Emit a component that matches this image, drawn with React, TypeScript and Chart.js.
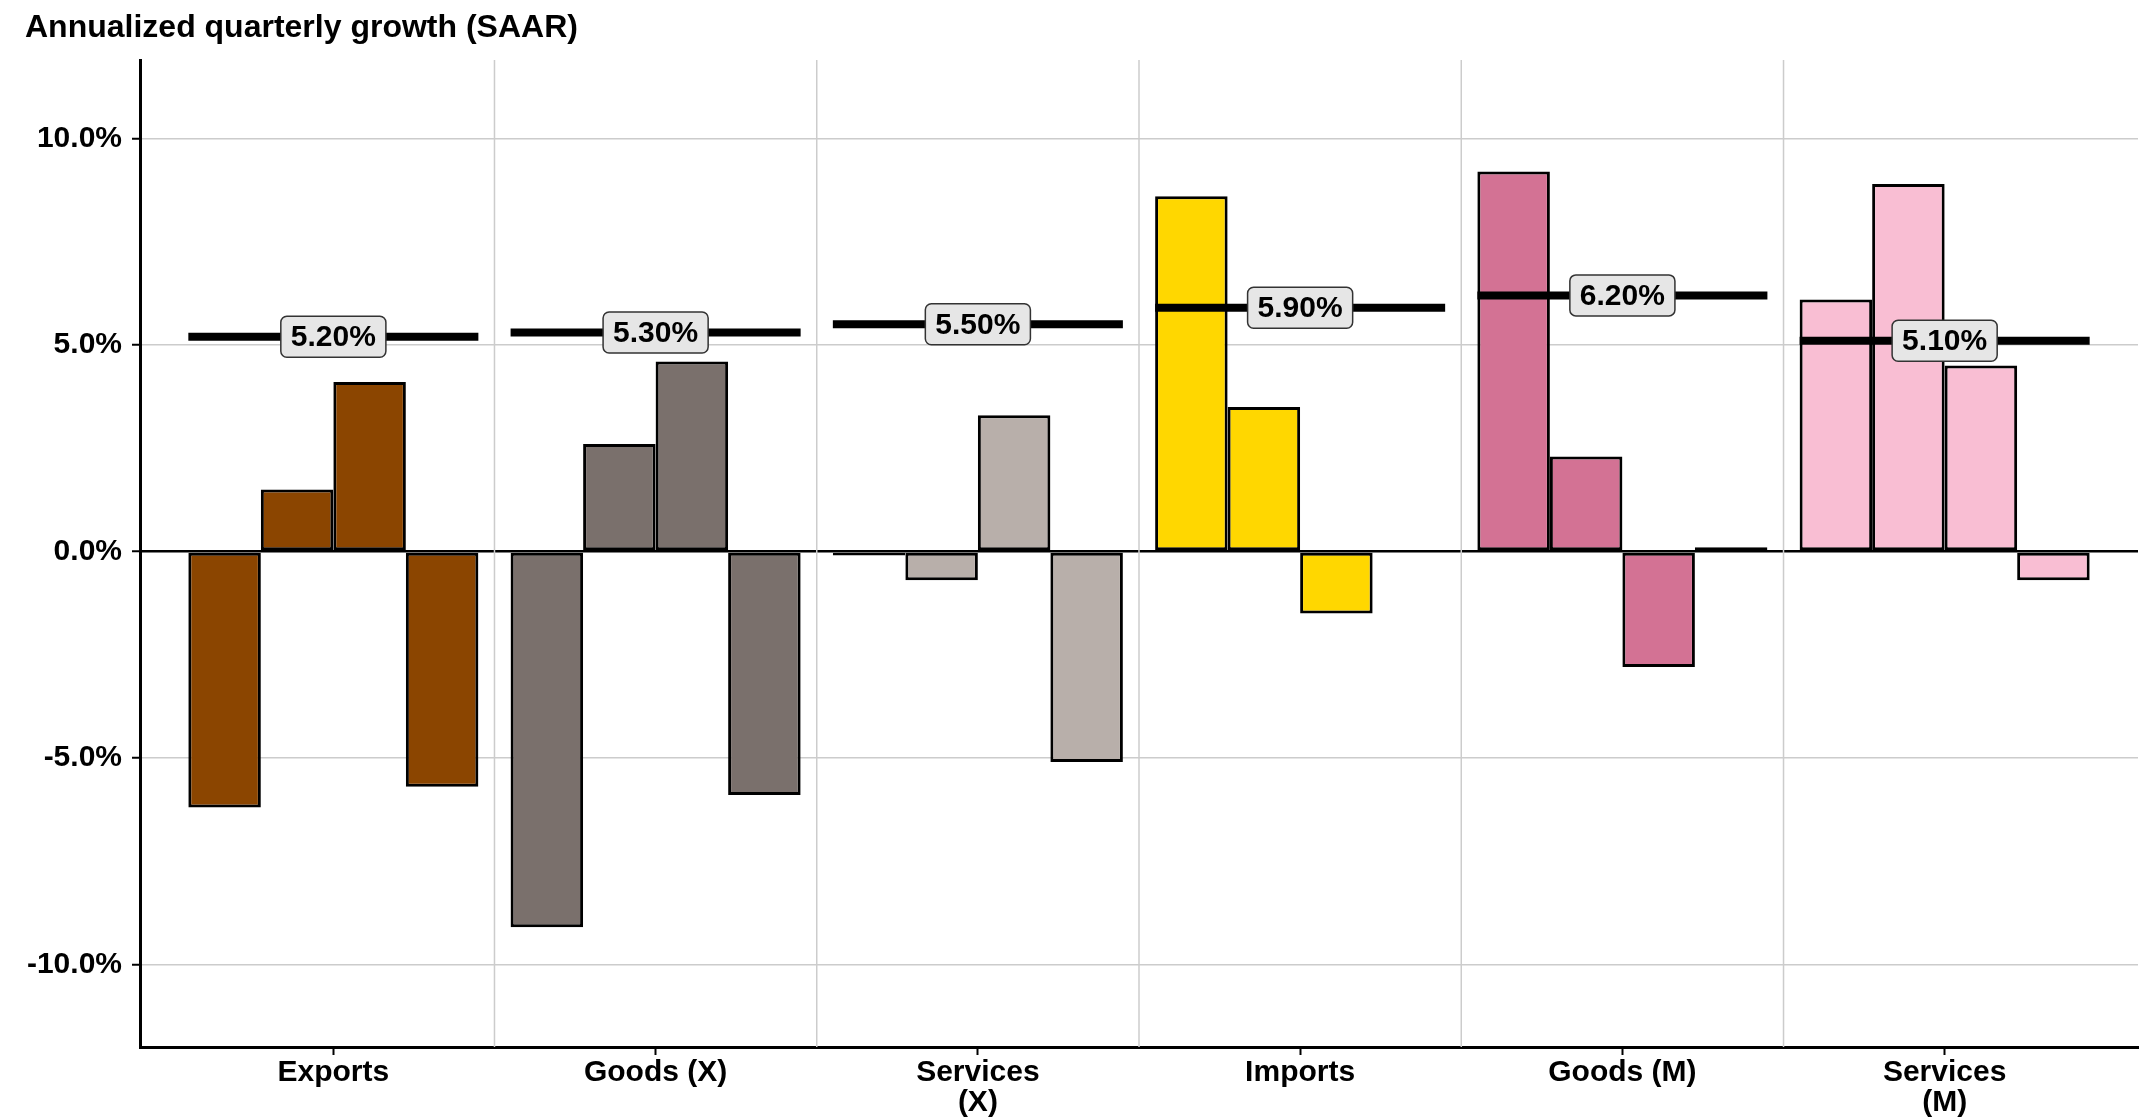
import React, { useEffect, useRef } from "react";
import { Chart, registerables } from "chart.js";

Chart.register(...registerables);

const categories: (string | string[])[] = [
  "Exports",
  "Goods (X)",
  ["Services", "(X)"],
  "Imports",
  "Goods (M)",
  ["Services", "(M)"],
];
const groupColors = ["#8B4500", "#7A706C", "#B8AFAA", "#FFD700", "#D37294", "#F9BED3"];
const q1 = [-6.2, -9.1, -0.1, 8.6, 9.2, 6.1];
const q2 = [1.5, 2.6, -0.7, 3.5, 2.3, 8.9];
const q3 = [4.1, 4.6, 3.3, -1.5, -2.8, 4.5];
const q4 = [-5.7, -5.9, -5.1, null, 0.1, -0.7];
const averages = [5.2, 5.3, 5.5, 5.9, 6.2, 5.1];
const yTicks = [-10, -5, 0, 5, 10];
const title = "Annualized quarterly growth (SAAR)";

const FONT = "'Liberation Sans', Arial, Helvetica, sans-serif";

export default function App() {
  const ref = useRef<HTMLCanvasElement | null>(null);

  useEffect(() => {
    document.body.style.margin = "0";
    const canvas = ref.current;
    if (!canvas) return;

    const series = [q1, q2, q3, q4];

    const extras = {
      id: "extras",
      beforeDatasetsDraw(chart: any) {
        const { ctx, chartArea, scales } = chart;
        const xs = scales.x;
        ctx.save();
        ctx.strokeStyle = "#cccccc";
        ctx.lineWidth = 1.5;
        for (let i = 0; i < categories.length - 1; i++) {
          const px = xs.getPixelForValue(i + 0.5);
          ctx.beginPath();
          ctx.moveTo(px, chartArea.top);
          ctx.lineTo(px, chartArea.bottom);
          ctx.stroke();
        }
        ctx.restore();
      },
      afterDatasetsDraw(chart: any) {
        const { ctx, scales } = chart;
        const ys = scales.y;
        const meta0 = chart.getDatasetMeta(0);
        ctx.save();
        for (let i = 0; i < averages.length; i++) {
          const el = meta0.data[i];
          if (!el) continue;
          const left = el.x - el.width / 2;
          const right = left + el.width * series.length;
          const py = ys.getPixelForValue(averages[i]);
          ctx.strokeStyle = "#000";
          ctx.lineWidth = 8;
          ctx.lineCap = "butt";
          ctx.beginPath();
          ctx.moveTo(left, py);
          ctx.lineTo(right, py);
          ctx.stroke();

          const label = averages[i].toFixed(2) + "%";
          ctx.font = `bold 30px ${FONT}`;
          const tw = ctx.measureText(label).width;
          const bw = tw + 20;
          const bh = 41;
          const cx = (left + right) / 2;
          const bx = cx - bw / 2;
          const by = py - bh / 2;
          ctx.beginPath();
          ctx.roundRect(bx, by, bw, bh, 6);
          ctx.fillStyle = "#e6e6e6";
          ctx.fill();
          ctx.lineWidth = 1.5;
          ctx.strokeStyle = "#333";
          ctx.stroke();
          ctx.fillStyle = "#000";
          ctx.textAlign = "center";
          ctx.textBaseline = "middle";
          ctx.fillText(label, cx, py + 1);
        }
        ctx.restore();
      },
      afterDraw(chart: any) {
        const { ctx } = chart;
        ctx.save();
        ctx.font = `bold 32px ${FONT}`;
        ctx.fillStyle = "#000";
        ctx.textAlign = "left";
        ctx.textBaseline = "alphabetic";
        ctx.fillText(title, 25, 37);
        ctx.restore();
      },
    };

    const chart = new Chart(canvas, {
      type: "bar",
      data: {
        datasets: series.map((s, k) => ({
          label: "Q" + (k + 1),
          data: s.map((v, i) => ({ x: i, y: v })),
          backgroundColor: groupColors,
          borderColor: "#000",
          borderWidth: 3,
          borderSkipped: false,
          categoryPercentage: 0.9,
          barPercentage: 1.0,
        })),
      } as any,
      options: {
        responsive: false,
        animation: false,
        layout: { padding: { top: 60, right: 14, left: 0, bottom: 0 } },
        plugins: {
          legend: { display: false },
          tooltip: { enabled: false },
          title: { display: false },
        },
        scales: {
          x: {
            type: "linear",
            min: -0.6,
            max: 5.6,
            offset: false,
            afterBuildTicks: (scale: any) => {
              scale.ticks = categories.map((_, i) => ({ value: i }));
            },
            afterFit: (scale: any) => {
              scale.height = 72;
            },
            grid: {
              offset: false,
              drawOnChartArea: false,
              drawTicks: true,
              tickLength: 8,
              tickColor: "#000",
              tickWidth: 2,
            },
            border: { display: true, color: "#000", width: 3 },
            ticks: {
              padding: 3,
              color: "#000",
              maxRotation: 0,
              autoSkip: false,
              font: { family: FONT, size: 30, weight: "bold", lineHeight: 1.0 },
              callback: (v: any) => categories[Math.round(Number(v))] as any,
            },
          },
          y: {
            type: "linear",
            min: -12,
            max: 11.9,
            afterBuildTicks: (scale: any) => {
              scale.ticks = yTicks.map((v) => ({ value: v }));
            },
            afterFit: (scale: any) => {
              scale.width = 140;
            },
            grid: {
              color: (c: any) => (c.tick && c.tick.value === 0 ? "#000" : "#cccccc"),
              lineWidth: (c: any) => (c.tick && c.tick.value === 0 ? 2.5 : 1.5),
              drawTicks: true,
              tickLength: 8,
              tickColor: "#000",
              tickWidth: 2,
            },
            border: { display: true, color: "#000", width: 3 },
            ticks: {
              padding: 10,
              color: "#000",
              font: { family: FONT, size: 30, weight: "bold" },
              callback: (v: any) => Number(v).toFixed(1) + "%",
            },
          },
        },
      } as any,
      plugins: [extras],
    });

    return () => {
      chart.destroy();
    };
  }, []);

  return (
    <div style={{ width: 2152, height: 1119, position: "relative", overflow: "hidden", background: "#fff" }}>
      <canvas ref={ref} width={2152} height={1119} style={{ display: "block", width: 2152, height: 1119 }} />
    </div>
  );
}
